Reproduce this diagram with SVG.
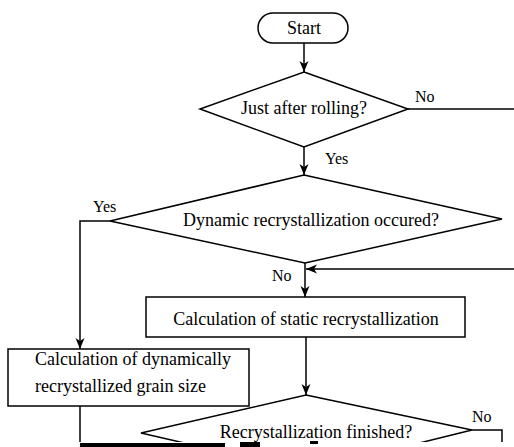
<svg xmlns="http://www.w3.org/2000/svg" width="514" height="447" viewBox="0 0 514 447">
<style>
.n{fill:#fff;stroke:#000;stroke-width:1.5}
.c{fill:none;stroke:#000;stroke-width:1.5}
text{font-family:"Liberation Serif","Times New Roman",serif;fill:#000}
.t{font-size:18px}
.l{font-size:16px}
.m{text-anchor:middle}
</style>
<defs>
<marker id="ah" markerUnits="userSpaceOnUse" markerWidth="12" markerHeight="10" refX="11" refY="4.5" orient="auto">
<path d="M0,0 L11,4.5 L0,9 L3,4.5 Z" fill="#000"/>
</marker>
<clipPath id="cut"><rect x="0" y="0" width="514" height="442"/></clipPath>
</defs>
<rect width="514" height="447" fill="#fff"/>
<g id="connectors" clip-path="url(#cut)">
<path class="c" d="M304,43 V72" marker-end="url(#ah)"/>
<path class="c" d="M408,109 H514"/>
<path class="c" d="M304,147 V175" marker-end="url(#ah)"/>
<path class="c" d="M110,221 H80 V349" marker-end="url(#ah)"/>
<path class="c" d="M305,263 V297" marker-end="url(#ah)"/>
<path class="c" d="M514,269 H306" marker-end="url(#ah)"/>
<path class="c" d="M306,337 V395" marker-end="url(#ah)"/>
<path class="c" d="M80,406 V447"/>
<path class="c" d="M472,430 H502 V447"/>
<text class="l" x="415" y="102">No</text>
<text class="l" x="325" y="164">Yes</text>
<text class="l" x="93" y="212">Yes</text>
<text class="l" x="272" y="281">No</text>
<text class="l" x="472" y="422">No</text>
</g>
<g id="start">
<rect class="n" x="258" y="13" width="90" height="30" rx="15"/>
<text class="t m" x="304" y="34">Start</text>
</g>
<g id="d1">
<polygon class="n" points="304,72 408,109 304,147 200,109"/>
<text class="t m" x="304" y="114">Just after rolling?</text>
</g>
<g id="d2">
<polygon class="n" points="304,175 502,219 305,263 110,221"/>
<text class="t m" x="311" y="226">Dynamic recrystallization occured?</text>
</g>
<g id="static">
<rect class="n" x="146" y="297" width="319" height="40"/>
<text class="t m" x="306" y="325">Calculation of static recrystallization</text>
</g>
<g id="dynamic">
<rect class="n" x="8" y="349" width="241" height="57"/>
<text class="t" x="35" y="365">Calculation of dynamically</text>
<text class="t" x="35" y="392">recrystallized grain size</text>
</g>
<g id="d3" clip-path="url(#cut)">
<polygon class="n" points="306,395 472,430 306,471 141,433"/>
<text class="t m" x="316" y="438">Recrystallization finished?</text>
</g>
<g id="scan-edge" fill="#000">
<rect x="80" y="443" width="145" height="4"/>
<rect x="240" y="442" width="20" height="5"/>
<rect x="310" y="441" width="8" height="3"/>
</g>
</svg>
